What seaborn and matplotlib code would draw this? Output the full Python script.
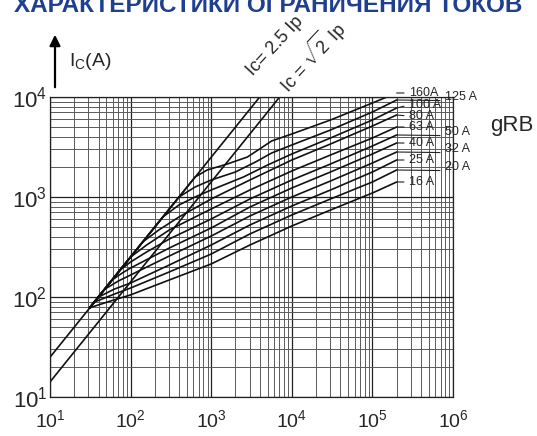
import matplotlib
matplotlib.use("Agg")
import matplotlib.pyplot as plt
import numpy as np
import pandas as pd
import seaborn as sns
from matplotlib.ticker import LogLocator, NullFormatter

# prospective current Ip (A) -> cut-off current Ic (A)
ratings = ["16", "20", "25", "32", "40", "50", "63", "80", "100", "125", "160"]
ip_16 = [31, 56, 100, 302, 1000, 3020, 10000, 30200, 100000, 200000]
ic_16 = [78, 91, 105, 148, 214, 331, 513, 741, 1096, 1413]
ip_20 = [31, 35.5, 63, 100, 302, 1000, 3020, 10000, 30200, 100000, 200000]
ic_20 = [78, 89, 107, 123, 178, 269, 427, 661, 955, 1413, 1862]
ip_25 = [31, 40, 63, 100, 302, 1000, 3020, 10000, 30200, 100000, 200000]
ic_25 = [78, 100, 120, 138, 209, 331, 525, 813, 1175, 1778, 2344]
ip_32 = [31, 48, 71, 100, 302, 1000, 3020, 10000, 30200, 100000, 200000]
ic_32 = [78, 120, 145, 166, 257, 407, 646, 1000, 1445, 2188, 2818]
ip_40 = [31, 59, 79, 100, 302, 1000, 3020, 10000, 30200, 100000, 200000]
ic_40 = [78, 148, 174, 195, 309, 490, 794, 1230, 1778, 2692, 3467]
ip_50 = [31, 74, 100, 158, 302, 1000, 3020, 10000, 30200, 100000, 200000]
ic_50 = [78, 186, 224, 282, 380, 603, 955, 1479, 2138, 3236, 4169]
ip_63 = [31, 100, 158, 302, 1000, 3020, 10000, 30200, 100000, 200000]
ic_63 = [78, 251, 331, 468, 759, 1175, 1820, 2630, 3890, 5012]
ip_80 = [31, 141, 224, 398, 1000, 3020, 10000, 30200, 100000, 200000]
ic_80 = [78, 355, 468, 631, 955, 1479, 2344, 3388, 5129, 6607]
ip_100 = [31, 251, 398, 631, 1000, 2512, 5012, 10000, 30200, 100000, 200000]
ic_100 = [78, 631, 832, 1000, 1175, 1585, 2089, 2692, 3890, 5888, 7762]
ip_125 = [31, 398, 631, 1000, 1995, 3548, 5623, 10000, 30200, 100000, 200000]
ic_125 = [78, 1000, 1259, 1479, 1778, 2239, 2754, 3311, 4677, 7079, 9333]
ip_160 = [31, 631, 891, 1585, 2818, 3981, 5623, 10000, 30200, 100000, 200000]
ic_160 = [78, 1585, 1862, 2138, 2512, 3020, 3631, 4266, 5888, 8710, 10965]

# reference lines Ic = 2.5 Ip and Ic = sqrt(2) Ip
line_25_ip = [10, 4000]
line_25_ic = [25, 10000]
line_sq2_ip = [10, 7071]
line_sq2_ic = [14.14, 10000]

x_ticks = [1e1, 1e2, 1e3, 1e4, 1e5, 1e6]
x_labels = [r"$10^{1}$", r"$10^{2}$", r"$10^{3}$", r"$10^{4}$", r"$10^{5}$", r"$10^{6}$"]
y_ticks = [1e1, 1e2, 1e3, 1e4]
y_labels = [r"$10^{1}$", r"$10^{2}$", r"$10^{3}$", r"$10^{4}$"]

label_text = {"16": "16 A", "20": "20 A", "25": "25 A", "32": "32 A", "40": "40 A",
              "50": "50 A", "63": "63 A", "80": "80 A", "100": "100 A",
              "125": "125 A", "160": "160A"}
right_column = ["20", "32", "50", "125"]
label_nudge = {"100": 3, "80": -1}

title = "ХАРАКТЕРИСТИКИ ОГРАНИЧЕНИЯ ТОКОВ"

sns.set_theme(style="white")
plt.rcParams["font.family"] = ["Liberation Sans", "DejaVu Sans"]
plt.rcParams["mathtext.fontset"] = "custom"
plt.rcParams["mathtext.rm"] = "Liberation Sans"
plt.rcParams["mathtext.it"] = "Liberation Sans"
plt.rcParams["mathtext.bf"] = "Liberation Sans:bold"

ip_all = [ip_16, ip_20, ip_25, ip_32, ip_40, ip_50, ip_63, ip_80, ip_100, ip_125, ip_160]
ic_all = [ic_16, ic_20, ic_25, ic_32, ic_40, ic_50, ic_63, ic_80, ic_100, ic_125, ic_160]
frames = []
for r, xs, ys in zip(ratings, ip_all, ic_all):
    frames.append(pd.DataFrame({"rating": r, "Ip": xs, "Ic": ys}))
curves = pd.concat(frames, ignore_index=True)

fig = plt.figure(figsize=(5.37, 4.36), dpi=100)
ax = fig.add_axes([50 / 537, 1 - 397 / 436, 403 / 537, 300 / 436])
ax.set_xscale("log")
ax.set_yscale("log")

sns.lineplot(data=curves, x="Ip", y="Ic", units="rating", estimator=None, sort=False,
             color="#111111", lw=1.2, ax=ax, legend=False)
ax.plot(line_25_ip, line_25_ic, color="#111111", lw=1.2)
ax.plot(line_sq2_ip, line_sq2_ic, color="#111111", lw=1.2)

ax.set_xlim(1e1, 1e6)
ax.set_ylim(1e1, 1e4)
ax.set_xticks(x_ticks, x_labels, fontsize=14)
ax.set_yticks(y_ticks, y_labels, fontsize=16)
ax.xaxis.set_minor_locator(LogLocator(base=10, subs=range(2, 10), numticks=20))
ax.yaxis.set_minor_locator(LogLocator(base=10, subs=range(2, 10), numticks=20))
ax.xaxis.set_minor_formatter(NullFormatter())
ax.yaxis.set_minor_formatter(NullFormatter())
ax.tick_params(which="both", length=0)
ax.tick_params(axis="x", pad=9)
ax.tick_params(axis="y", pad=2)
ax.grid(which="major", color="#222222", lw=0.9)
ax.grid(which="minor", color="#5a5a5a", lw=0.7)
ax.set_axisbelow(True)
for s in ax.spines.values():
    s.set_color("#222222")
    s.set_linewidth(0.9)
ax.set_xlabel("")
ax.set_ylabel("")

# rating labels at the curve ends
for r, xs, ys in zip(ratings, ip_all, ic_all):
    if r in right_column:
        dx, dy, rel = 48, 3, (0, 0.2)
    else:
        dx, dy, rel = 12, label_nudge.get(r, 0), (0, 0.5)
    ax.annotate(label_text[r], xy=(xs[-1], ys[-1]), xytext=(dx, dy),
                textcoords="offset pixels", ha="left", va="center", fontsize=9,
                annotation_clip=False,
                arrowprops=dict(arrowstyle="-", lw=0.8, color="#222222",
                                shrinkA=1, shrinkB=0, relpos=rel))

fig.text(490 / 537, 1 - 125 / 436, "gRB", fontsize=16, ha="left", va="center")

ax.annotate("", xy=(55 / 537, 1 - 32 / 436), xytext=(55 / 537, 1 - 90 / 436),
            xycoords="figure fraction", textcoords="figure fraction",
            arrowprops=dict(arrowstyle="-|>", lw=1.6, color="black", mutation_scale=16))
fig.text(69 / 537, 1 - 62 / 436, r"I$_{\mathrm{C}}$(A)", fontsize=14, ha="left", va="center")

fig.text(275 / 537, 1 - 46 / 436, "Ic= 2.5 Ip", rotation=47, fontsize=13,
         ha="center", va="center", rotation_mode="anchor")
fig.text(311 / 537, 1 - 56 / 436, r"Ic = $\sqrt{2}$ Ip", rotation=47, fontsize=13,
         ha="center", va="center", rotation_mode="anchor")

# title sits mostly above the top edge, only its lower half shows
fig.text(0.5, 1 - 12 / 436, title, ha="center", va="baseline", fontsize=17.5,
         fontweight="bold", color="#1f3f8f")

fig.savefig("out.png", dpi=100)
